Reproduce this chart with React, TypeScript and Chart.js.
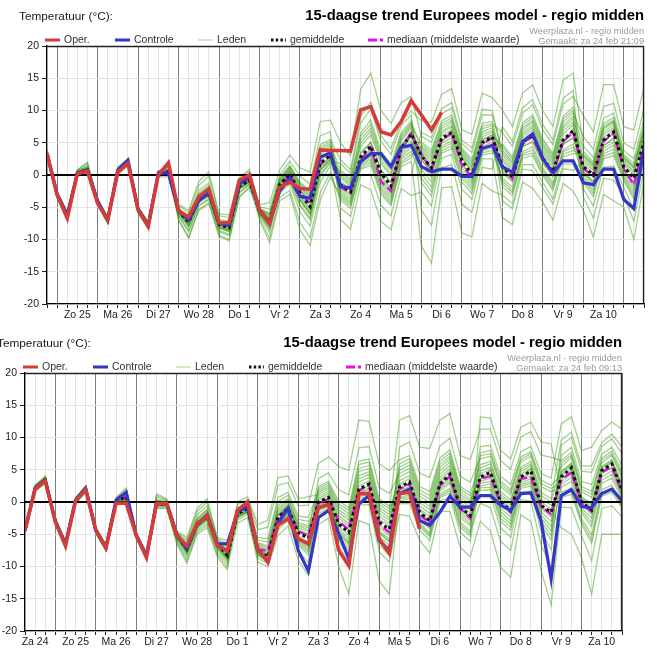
import React, { useEffect, useRef } from "react";
import { Chart, registerables } from "chart.js";

Chart.register(...registerables);

const FONT = '"Liberation Sans", Arial, Helvetica, sans-serif';
const RED = "#d43c3c";
const BLUE = "#3535c9";
const MAGENTA = "#e012e0";
const MEMBER = "rgba(50,150,10,0.45)";
const TITLE = "15-daagse trend Europees model - regio midden";

const yRange = [-20, 20];
const yStep = 5;

const topDays = ["Zo 25", "Ma 26", "Di 27", "Wo 28", "Do 1", "Vr 2", "Za 3", "Zo 4", "Ma 5", "Di 6", "Wo 7", "Do 8", "Vr 9", "Za 10"];
const bottomDays = ["Za 24", "Zo 25", "Ma 26", "Di 27", "Wo 28", "Do 1", "Vr 2", "Za 3", "Zo 4", "Ma 5", "Di 6", "Wo 7", "Do 8", "Vr 9", "Za 10"];

// ---------- Top panel (run za 24 feb 21:09), 6-hourly values ----------
const topOper = [3.4,-3.1,-6.7,0.2,0.6,-4.4,-7.0,0.5,1.8,-5.4,-8.0,0.0,1.9,-5.6,-6.5,-3.4,-2.2,-7.4,-7.4,-0.8,0.0,-5.4,-7.5,-1.9,-1.1,-2.1,-2.2,3.9,3.8,3.8,3.7,10.1,10.6,6.7,6.2,8.3,11.5,9.3,7.0,9.7];
const topControl = [3.3,-3.0,-6.3,0.3,0.8,-4.0,-7.0,0.8,2.3,-5.3,-7.8,0.3,0.3,-5.5,-7.0,-4.0,-2.7,-7.5,-7.8,-1.5,0.0,-5.5,-7.3,-2.5,-0.5,-3.3,-3.6,2.8,3.4,-1.8,-2.0,2.1,3.3,3.3,1.3,4.3,4.6,1.3,0.5,0.9,0.9,-0.2,-0.2,4.1,4.6,1.3,0.4,5.2,6.4,2.6,0.3,2.2,2.2,-1.2,-1.5,0.9,0.9,-3.8,-5.2,4.1];
const topMean = [3.3,-3.0,-6.3,0.3,0.8,-4.2,-7.0,0.6,2.0,-5.4,-7.8,0.2,0.5,-5.6,-7.3,-3.8,-2.8,-7.7,-8.2,-1.8,-0.8,-5.6,-7.2,-1.5,0.2,-2.8,-4.9,1.8,3.1,-1.5,-2.6,2.8,4.5,0.3,-1.7,4.1,6.4,3.0,1.1,5.7,6.6,2.3,0.0,5.0,5.9,1.3,-0.3,5.0,6.2,2.6,0.5,5.4,6.9,1.3,0.0,5.4,6.7,1.3,-0.5,5.2];
const topMedian = [3.3,-3.0,-6.3,0.3,0.8,-4.2,-7.0,0.6,2.0,-5.4,-7.8,0.2,0.5,-5.6,-7.1,-3.6,-2.6,-7.6,-8.0,-1.6,-0.6,-5.6,-7.2,-1.7,0.0,-2.6,-4.5,1.6,3.0,-1.8,-2.8,2.4,4.3,-1.0,-2.5,4.0,6.4,3.2,0.8,5.5,6.5,1.5,-0.3,4.8,5.8,1.5,-0.5,4.8,6.0,2.3,0.3,5.2,6.6,1.0,-0.2,5.2,6.5,1.0,-1.5,4.8];
const topMembers = [
  [3.7,-2.6,-5.9,0.7,1.2,-3.8,-6.6,1.0,2.4,-5.0,-7.4,0.6,0.9,-4.7,-5.9,-1.6,-0.2,-6.3,-6.6,-0.8,0.6,-4.6,-4.3,0.8,3.1,1.1,0.4,8.3,8.5,5.0,3.0,13.3,15.8,10.0,8.0,11.2,12.2,6.0,5.1,9.5,10.4,4.9,3.5,9.3,9.3,3.9,2.0,7.3,8.5,4.8,2.6,8.2,9.6,6.0,4.0,10.6,11.1,5.0,4.0,10.2],
  [2.9,-3.4,-6.7,-0.1,0.4,-4.6,-7.4,0.2,1.6,-5.8,-8.2,-0.2,0.1,-6.9,-9.6,-5.3,-4.3,-9.3,-10.0,-3.3,-1.9,-6.7,-9.8,-3.5,-2.4,-7.4,-9.7,-2.8,0.4,-3.9,-5.2,0.9,1.5,-3.0,-4.7,1.3,2.1,-11.0,-13.7,-2.0,-1.8,-9.0,-9.6,-1.3,-2.5,-3.1,-4.4,1.6,1.6,-1.2,-3.7,1.7,1.7,-0.7,-2.9,2.9,3.5,-0.6,-3.4,3.3],
  [3.5,-2.8,-6.1,0.5,1.0,-4.0,-6.8,0.8,2.2,-5.2,-7.6,0.4,0.7,-5.3,-6.8,-3.0,-1.8,-7.2,-7.6,-1.4,-0.3,-5.2,-5.9,-0.5,1.5,-1.1,-2.5,4.7,5.5,2.4,0.8,9.1,11.3,6.1,4.1,8.4,9.9,8.4,8.2,12.5,13.4,7.0,6.3,12.7,12.0,10.1,7.5,12.7,14.0,10.0,7.5,14.7,15.8,4.5,2.7,8.8,9.6,3.8,2.5,8.6],
  [3.1,-3.2,-6.5,0.1,0.6,-4.4,-7.2,0.4,1.8,-5.6,-8.0,0.0,0.3,-6.0,-8.1,-4.3,-3.3,-8.2,-8.8,-2.3,-1.2,-6.3,-8.9,-2.8,-1.4,-5.7,-7.9,-1.1,1.4,-6.9,-8.4,-1.5,-2.3,-7.2,-8.5,-2.1,-3.2,-2.6,-4.8,2.6,3.2,-2.2,-3.8,2.5,2.5,-6.6,-7.7,-1.1,-2.1,-4.2,-7.0,-1.3,-2.5,-5.4,-9.6,-3.0,-4.0,-5.0,-10.0,-1.0],
  [3.8,-2.5,-5.7,0.8,2.0,-3.8,-6.5,1.2,2.5,-5.0,-7.2,0.6,1.5,-5.1,-6.4,-2.4,-1.2,-6.9,-7.2,-1.2,0.1,-5.4,-6.6,-1.0,0.8,-1.9,-3.7,3.2,4.3,-0.2,-1.5,4.9,6.8,2.2,0.2,5.5,7.6,4.8,3.5,8.0,8.9,3.9,2.1,7.6,7.9,6.6,4.4,9.6,10.9,7.0,4.7,11.0,12.2,9.2,6.7,14.0,14.0,7.5,7.0,13.6],
  [2.8,-3.5,-6.8,-0.2,0.2,-4.7,-7.5,0.1,1.4,-5.9,-8.3,-0.3,-0.3,-6.3,-8.6,-4.7,-3.7,-8.6,-9.2,-2.7,-1.4,-5.9,-7.9,-2.0,-0.4,-3.9,-6.1,0.7,2.4,0.5,-0.9,6.0,7.9,3.2,1.2,6.2,8.1,0.2,-1.9,4.2,4.9,0.0,-1.9,3.7,4.2,1.0,-0.8,5.4,6.0,2.2,0.9,5.0,7.2,-2.1,-4.8,1.2,1.4,-1.9,-5.3,2.1],
  [3.3,-3.0,-6.2,0.3,0.9,-4.1,-7.0,0.6,2.1,-5.4,-7.8,0.2,0.6,-5.5,-7.1,-3.5,-2.5,-7.5,-8.0,-1.7,-0.6,-5.7,-7.5,-1.8,-0.1,-3.4,-5.5,1.2,2.8,-2.7,-3.9,1.8,3.0,-1.4,-3.2,2.7,4.3,3.6,1.9,6.5,7.4,2.8,0.7,5.9,6.6,-1.3,-2.8,3.0,3.4,0.3,-2.0,3.2,3.8,2.9,1.3,7.1,8.2,2.5,1.0,6.9],
  [3.4,-2.9,-6.4,0.4,0.7,-4.3,-6.9,0.5,1.9,-5.5,-7.7,0.1,0.4,-5.7,-7.6,-4.0,-3.0,-7.9,-8.4,-2.0,-0.9,-4.9,-5.3,0.0,2.1,-0.2,-1.4,6.1,6.7,-5.1,-6.4,-0.1,0.0,-4.7,-6.3,0.0,0.0,6.6,5.8,10.3,11.2,5.4,4.2,10.2,10.0,3.1,1.3,6.5,7.8,4.1,1.9,7.3,8.7,0.0,-1.9,3.7,4.6,0.0,-2.4,4.0],
  [3.2,-3.1,-6.5,0.2,0.5,-4.3,-7.1,0.4,1.7,-5.5,-7.9,0.1,0.2,-5.4,-6.9,-3.2,-2.1,-7.4,-7.8,-1.5,-0.5,-6.0,-8.2,-2.3,-0.8,-4.5,-6.7,0.1,2.1,1.8,0.2,8.1,10.2,5.2,3.2,7.7,9.3,-5.4,-7.8,1.1,1.6,-4.5,-5.8,1.2,0.9,7.5,5.2,10.4,11.7,7.8,5.4,11.9,13.1,-3.4,-6.7,-0.5,-0.8,-3.1,-7.2,0.9],
  [3.6,-2.7,-6.0,0.6,1.5,-3.9,-6.7,0.9,2.4,-5.1,-7.5,0.5,1.2,-6.4,-8.8,-4.8,-3.8,-8.8,-9.4,-2.8,-1.5,-5.5,-6.9,-1.3,0.5,-2.4,-4.3,2.5,3.7,-2.1,-3.2,2.3,3.8,-0.5,-2.5,3.4,5.3,2.5,0.5,5.2,6.8,1.8,-0.5,5.5,6.2,-4.0,-5.2,0.9,0.7,-2.0,-4.5,1.0,0.7,2.1,0.7,6.3,7.4,1.9,0.3,6.0],
  [3.0,-3.3,-6.6,0.0,0.5,-4.5,-7.3,0.3,1.7,-5.7,-8.1,-0.1,0.2,-4.5,-5.5,-1.0,0.5,-6.0,-6.2,-0.5,0.9,-7.0,-10.5,-4.0,-3.0,-8.5,-10.9,-3.9,-0.3,-3.3,-4.5,1.4,2.3,-2.2,-4.0,2.0,3.2,4.2,2.7,7.2,8.1,3.3,1.4,6.7,7.3,0.4,-1.1,4.3,5.3,1.8,-0.3,4.7,5.9,0.6,-1.0,4.6,5.6,0.7,-1.5,4.6],
  [3.7,-2.6,-5.8,0.8,1.8,-3.9,-6.6,1.1,2.5,-5.0,-7.3,0.6,1.3,-7.0,-9.8,-5.5,-4.5,-9.5,-10.2,-3.5,-2.0,-5.3,-6.2,-0.8,1.2,-1.5,-3.1,4.0,4.9,-1.0,-2.2,3.5,5.0,0.8,-1.2,4.5,6.8,-1.2,-3.3,3.4,4.1,-1.1,-2.9,3.1,3.4,4.8,2.8,8.1,9.3,5.6,3.3,9.1,10.5,3.7,2.0,8.0,8.9,3.2,1.8,7.7],
  [3.5,-2.8,-6.1,0.5,1.0,-4.0,-6.8,0.8,2.2,-5.2,-7.6,0.4,0.7,-5.4,-7.0,-3.4,-2.3,-7.4,-7.9,-1.6,-0.5,-5.3,-6.4,-0.9,1.0,-1.7,-3.4,3.6,4.6,0.8,-0.6,6.5,8.5,3.7,1.7,6.6,8.4,3.9,2.3,6.8,7.7,3.1,1.1,6.3,6.9,3.5,1.7,6.9,8.2,4.5,2.3,7.7,9.1,2.5,1.0,6.7,7.8,2.2,0.6,6.5],
  [3.1,-3.2,-6.4,0.1,0.7,-4.4,-7.2,0.5,1.9,-5.6,-8.0,0.1,0.4,-5.8,-7.7,-4.1,-3.1,-8.0,-8.5,-2.1,-1.0,-5.9,-7.9,-2.0,-0.4,-3.9,-6.1,0.7,2.4,-3.0,-4.2,1.6,2.6,-1.8,-3.6,2.4,3.7,-0.5,-2.6,3.8,4.5,-0.5,-2.4,3.4,3.8,-0.5,-1.9,3.6,4.4,1.1,-1.2,3.9,4.8,-0.4,-2.4,3.3,4.0,-0.3,-2.9,3.7],
  [3.4,-2.9,-6.2,0.4,0.9,-4.1,-6.9,0.7,2.1,-5.3,-7.7,0.3,0.6,-5.2,-6.7,-2.8,-1.6,-7.1,-7.5,-1.3,-0.2,-5.4,-6.8,-1.2,0.6,-2.2,-4.1,2.7,3.9,-2.4,-3.6,2.1,3.4,-0.9,-2.8,3.1,4.8,5.1,3.9,8.4,9.3,4.1,2.5,8.0,8.3,2.2,0.5,5.8,7.0,3.3,1.2,6.3,7.8,0.5,-1.1,4.4,5.8,0.8,-1.3,4.3],
  [3.2,-3.1,-6.4,0.2,0.7,-4.3,-7.1,0.5,1.9,-5.5,-7.9,0.1,0.4,-5.9,-7.9,-4.2,-3.2,-8.2,-8.7,-2.2,-1.1,-5.5,-7.0,-1.4,0.4,-2.6,-4.6,2.2,3.4,-0.5,-1.8,4.4,6.2,1.8,-0.2,5.2,7.3,1.6,-0.4,4.9,5.8,1.2,-1.0,4.4,5.1,-1.8,-3.2,2.6,3.0,-0.1,-2.4,2.8,3.3,3.3,1.7,7.6,8.5,2.9,1.4,7.3],
  [3.6,-2.7,-6.0,0.6,1.3,-3.9,-6.7,0.9,2.3,-5.1,-7.5,0.5,1.0,-5.5,-7.2,-3.7,-2.6,-7.6,-8.1,-1.7,-0.7,-6.1,-8.4,-2.4,-0.9,-4.8,-7.0,-0.2,1.9,-1.2,-2.3,3.3,5.1,0.8,-1.2,4.5,6.7,0.9,-1.1,4.5,5.3,0.6,-1.4,4.1,4.6,2.6,0.9,6.2,7.4,3.7,1.6,6.8,8.2,-1.1,-3.4,2.5,3.0,-0.9,-3.8,3.0],
  [3.0,-3.3,-6.6,0.0,0.5,-4.5,-7.3,0.3,1.7,-5.7,-8.1,-0.1,0.2,-5.7,-7.4,-3.9,-2.9,-7.8,-8.3,-1.9,-0.9,-5.2,-6.1,-0.6,1.3,-1.3,-2.8,4.3,5.2,-3.6,-4.8,1.1,1.9,-2.6,-4.4,1.7,2.7,4.5,3.1,7.6,8.5,3.6,1.8,7.2,7.6,0.6,-0.9,4.5,5.0,2.0,-0.1,4.9,5.6,1.7,0.3,5.8,7.1,1.6,-0.1,5.6],
  [3.5,-2.9,-6.1,0.4,1.1,-4.0,-6.8,0.7,2.2,-5.3,-7.6,0.3,0.8,-5.3,-6.9,-3.1,-2.0,-7.3,-7.7,-1.5,-0.4,-5.8,-7.7,-1.9,-0.3,-3.7,-5.8,0.9,2.6,0.1,-1.2,5.4,7.3,2.7,0.7,5.9,7.9,2.3,0.4,5.3,6.2,1.7,-0.5,4.7,5.5,-0.9,-2.4,3.3,3.9,0.7,-1.6,3.6,4.3,3.0,1.5,7.3,8.3,2.7,1.2,7.0],
  [3.2,-3.1,-6.5,0.2,0.6,-4.4,-7.1,0.5,1.8,-5.6,-8.0,0.1,0.3,-5.9,-7.8,-4.1,-3.1,-8.1,-8.6,-2.1,-1.0,-5.7,-7.4,-1.6,0.0,-3.1,-5.2,1.5,2.9,-1.8,-2.9,2.6,4.1,-0.1,-2.1,3.8,5.9,3.3,1.5,6.1,7.0,2.6,0.4,5.4,6.2,4.4,2.4,7.7,8.9,5.2,3.0,8.7,10.0,0.3,-1.4,4.1,5.1,0.4,-1.9,4.3],
];

// ---------- Bottom panel (run za 24 feb 09:13), 6-hourly values ----------
const bottomOper = [-4.4,2.0,3.3,-3.1,-6.8,0.2,1.9,-4.4,-7.1,-0.2,-0.2,-5.2,-8.6,-0.2,-0.2,-5.2,-6.8,-3.4,-2.1,-6.8,-7.5,-1.3,0.0,-7.3,-9.3,-3.6,-2.6,-5.7,-6.5,-0.9,-0.4,-7.5,-9.9,1.3,1.3,-5.7,-8.0,1.3,1.5,-4.2];
const bottomControl = [-4.4,2.2,3.4,-3.0,-6.5,0.3,2.1,-4.4,-7.1,0.3,1.5,-5.2,-8.3,-0.2,-0.2,-5.0,-7.2,-3.5,-2.0,-6.5,-6.5,-1.5,-0.7,-7.3,-9.3,-3.3,-1.0,-7.5,-10.7,-2.4,-1.3,-4.9,-8.8,-0.3,1.0,-6.0,-7.5,1.3,2.0,-2.9,-3.6,-1.6,0.9,-0.8,-0.8,1.0,1.0,-0.5,-1.3,1.3,1.4,-2.9,-11.9,1.0,1.9,-0.7,-0.9,1.3,2.0,0.2];
const bottomMean = [-4.4,2.1,3.4,-3.0,-6.6,0.2,2.0,-4.4,-7.1,0.1,0.8,-5.2,-8.4,-0.3,-0.3,-5.2,-7.3,-3.5,-2.2,-6.5,-8.3,-1.8,-1.0,-7.5,-8.5,-2.4,-1.0,-4.8,-5.6,0.0,0.7,-3.4,-4.7,2.0,2.8,-3.1,-4.2,2.3,3.1,-1.6,-2.9,2.8,4.3,-0.8,-2.1,3.9,4.6,0.0,-1.3,3.9,4.8,-0.5,-1.6,3.9,5.3,0.0,-1.2,4.9,5.9,1.8];
const bottomMedian = [-4.4,2.1,3.4,-3.0,-6.6,0.2,2.0,-4.4,-7.1,0.1,0.8,-5.2,-8.3,-0.3,-0.3,-5.2,-7.2,-3.4,-2.1,-6.6,-8.0,-1.7,-0.9,-7.3,-7.6,-2.3,-1.1,-4.5,-5.3,-0.2,0.5,-3.0,-4.3,1.8,2.6,-3.5,-4.7,2.0,2.8,-1.9,-3.3,2.5,4.0,-1.0,-2.5,3.6,4.0,-0.3,-1.6,3.6,3.9,-0.7,-1.9,3.5,4.6,-0.2,-1.5,4.6,5.5,1.5];
const bottomMembers = [
  [-4.0,2.5,3.8,-2.6,-6.2,0.6,2.4,-4.0,-6.7,0.5,1.6,-4.8,-8.0,0.7,0.2,-4.8,-6.2,-2.0,-0.6,-5.9,-6.9,-0.4,0.4,-4.3,-3.9,2.6,3.0,-0.6,-0.5,6.0,7.0,5.5,4.9,12.7,12.5,5.9,4.9,6.5,7.2,2.4,1.6,6.8,8.1,2.4,1.4,5.8,6.3,1.6,0.3,5.4,6.3,1.5,0.5,9.6,10.8,5.6,5.6,9.2,10.5,8.5],
  [-4.8,1.7,3.0,-3.4,-7.0,-0.2,1.6,-4.8,-7.5,-0.3,0.0,-5.6,-8.8,-0.9,-0.9,-6.2,-9.1,-4.7,-3.6,-8.1,-10.1,-3.3,-2.4,-9.3,-10.0,-5.2,-3.7,-9.0,-11.4,-3.5,-2.5,-10.0,-14.3,-2.9,-3.5,-12.2,-14.3,0.7,1.1,-3.2,-4.8,1.2,2.1,-3.1,-4.5,-0.2,-0.9,-6.1,-7.5,0.4,0.1,-6.6,-10.2,0.7,1.2,-3.4,-6.4,0.9,1.5,-0.9],
  [-4.2,2.3,3.6,-2.8,-6.4,0.4,2.2,-4.2,-6.9,0.3,1.2,-5.0,-8.2,0.2,-0.1,-5.0,-6.8,-2.8,-1.4,-6.2,-7.6,-0.9,-0.1,-5.5,-5.7,0.7,1.5,-2.2,-2.4,1.8,2.6,-0.7,-1.8,5.2,5.7,-0.4,-1.5,12.7,13.4,8.5,8.3,12.7,13.7,7.2,6.6,11.3,11.3,6.4,5.1,10.1,10.9,7.3,6.9,6.4,7.7,2.4,1.7,6.8,7.9,4.7],
  [-4.6,1.9,3.2,-3.2,-6.8,0.0,1.8,-4.6,-7.3,-0.1,0.4,-5.4,-8.6,-0.6,-0.6,-5.7,-8.2,-4.1,-2.9,-7.3,-9.2,-2.3,-1.5,-8.1,-9.0,-3.3,-1.9,-6.2,-7.5,-1.8,-0.9,-6.7,-9.5,-0.5,-0.4,-7.7,-9.3,-1.9,-2.2,-5.9,-7.9,-1.4,-1.5,-7.0,-8.5,-3.0,-4.5,-10.1,-11.7,-2.0,-3.0,-10.6,-16.0,-0.8,-0.9,-5.2,-9.1,-1.0,-0.6,-2.3],
  [-3.9,2.6,4.0,-2.5,-6.1,0.7,2.5,-3.9,-6.6,0.7,2.2,-4.7,-7.9,1.0,0.3,-4.6,-5.9,-1.5,0.0,-5.7,-6.5,-1.6,-0.8,-7.2,-8.2,-2.0,-0.6,-4.5,-5.0,3.6,4.5,1.9,1.1,8.4,8.6,2.3,1.3,4.4,5.2,0.4,-0.7,4.8,6.2,0.8,-0.4,8.6,8.8,4.0,2.7,7.8,8.6,4.4,3.7,12.1,13.2,8.0,8.5,11.1,12.4,11.3],
  [-4.9,1.6,2.9,-3.5,-7.1,-0.3,1.5,-4.9,-7.6,-0.4,-0.2,-5.7,-8.9,-0.4,-0.4,-5.5,-7.7,-3.8,-2.6,-6.9,-8.7,-2.8,-1.9,-8.7,-9.5,-4.3,-2.8,-7.6,-9.4,0.6,1.3,-2.5,-3.7,3.1,3.8,-2.2,-3.3,-0.3,-0.2,-4.3,-6.0,0.2,0.7,-4.7,-6.1,3.5,4.9,0.4,-1.6,3.6,5.2,-0.9,-1.2,-4.0,-5.0,-8.6,-14.3,-5.0,-5.0,-5.0],
  [-4.4,2.1,3.5,-3.0,-6.5,0.2,2.1,-4.4,-7.0,0.2,0.9,-5.2,-8.3,-0.1,-0.2,-5.1,-7.1,-3.3,-1.9,-6.4,-8.1,-1.4,-0.6,-6.7,-7.4,-1.2,0.0,-3.7,-4.3,-0.7,0.1,-4.7,-6.6,1.0,1.5,-4.9,-6.2,3.3,4.1,-0.6,-1.8,3.8,5.2,0.0,-1.2,2.5,2.8,-2.0,-3.4,2.7,3.2,-2.5,-4.5,7.2,8.5,3.2,2.7,7.4,8.5,5.6],
  [-4.3,2.2,3.3,-2.9,-6.7,0.3,1.9,-4.3,-7.2,0.0,0.6,-5.1,-8.5,-0.4,-0.4,-5.3,-7.5,-3.7,-2.4,-6.7,-8.5,-1.1,-0.3,-5.9,-6.2,0.1,1.0,-2.7,-3.0,-1.4,-0.6,-6.0,-8.5,0.0,0.3,-6.7,-8.2,8.5,9.3,4.5,3.8,8.7,9.9,4.0,3.1,6.7,7.1,2.4,1.1,6.2,7.1,2.4,1.6,2.3,3.2,-1.7,-3.8,2.9,3.7,0.4],
  [-4.5,2.0,3.2,-3.1,-6.5,0.1,1.8,-4.5,-7.1,0.1,1.0,-5.3,-8.3,0.3,0.0,-4.9,-6.6,-2.5,-1.1,-6.1,-7.4,-2.1,-1.3,-7.9,-8.8,-3.0,-1.6,-5.7,-6.9,2.4,3.2,0.2,-0.9,6.3,6.7,0.5,-0.6,0.2,0.5,-3.8,-5.4,0.7,1.4,-3.9,-5.3,13.2,13.0,8.0,6.7,11.6,12.4,9.3,9.0,1.5,2.2,-2.6,-5.1,1.9,2.6,-0.2],
  [-4.1,2.4,3.7,-2.7,-6.3,0.5,2.3,-4.1,-6.8,0.4,1.4,-4.9,-8.1,-0.7,-0.7,-6.0,-8.6,-4.4,-3.3,-7.7,-9.6,-1.6,-0.8,-7.1,-7.9,-1.8,-0.5,-4.3,-5.0,-0.4,0.4,-4.1,-5.7,1.5,2.2,-4.0,-5.2,2.7,2.8,-1.2,-3.2,3.1,4.0,-0.5,-2.4,1.1,1.0,-4.0,-5.5,1.5,1.7,-4.5,-7.4,4.7,6.1,0.8,-0.2,5.5,6.6,2.8],
  [-4.7,1.8,3.1,-3.3,-6.9,-0.1,1.7,-4.7,-7.4,-0.2,0.2,-5.5,-8.7,1.3,0.5,-4.5,-5.5,-1.0,0.5,-5.5,-6.0,-2.5,-1.6,-8.3,-9.2,-3.6,-2.2,-6.7,-8.2,-1.1,-0.3,-5.4,-7.6,0.5,0.9,-5.8,-7.2,5.4,6.2,1.4,0.5,5.8,7.1,1.6,0.5,1.8,1.9,-3.0,-4.4,2.1,2.5,-3.5,-5.9,8.8,10.0,4.8,4.6,8.6,9.8,7.5],
  [-4.0,2.6,3.9,-2.6,-6.2,0.6,2.5,-4.0,-6.7,0.6,2.0,-4.8,-8.0,-1.0,-1.0,-6.5,-9.5,-5.0,-4.0,-8.5,-10.5,0.0,0.8,-3.5,-2.8,3.8,4.0,0.5,0.8,1.2,2.0,-1.6,-2.8,4.1,4.7,-1.3,-2.4,1.3,1.8,-2.7,-4.1,1.7,2.9,-2.4,-3.7,7.6,8.0,3.2,1.9,7.0,7.8,3.4,2.6,4.2,5.0,0.4,-1.6,4.6,6.2,1.4],
  [-4.2,2.3,3.6,-2.8,-6.4,0.4,2.2,-4.2,-6.9,0.3,1.1,-5.0,-8.2,0.0,-0.1,-5.1,-6.9,-3.0,-1.7,-6.3,-7.8,-1.3,-0.5,-6.3,-6.8,-0.5,0.5,-3.2,-3.7,1.5,2.3,-1.2,-2.3,4.7,5.2,-0.9,-1.9,3.9,4.7,-0.1,-1.2,4.3,5.7,0.4,-0.8,5.3,5.9,1.2,-0.1,5.1,5.9,1.0,0.0,6.0,7.3,2.0,1.2,6.5,7.5,4.2],
  [-4.6,1.9,3.2,-3.2,-6.8,0.0,1.8,-4.6,-7.3,-0.1,0.5,-5.4,-8.6,-0.5,-0.5,-5.5,-7.9,-3.9,-2.7,-7.0,-8.9,-2.2,-1.4,-8.0,-8.9,-3.2,-1.8,-6.0,-7.2,-0.9,-0.1,-5.1,-7.1,0.8,1.2,-5.4,-6.7,1.5,2.1,-2.4,-3.8,2.0,3.2,-2.0,-3.3,2.2,2.3,-2.5,-3.9,2.4,2.9,-3.0,-5.2,2.7,3.8,-1.3,-3.2,3.4,4.3,0.8],
  [-4.3,2.2,3.5,-2.9,-6.5,0.3,2.1,-4.3,-7.0,0.2,0.9,-5.1,-8.3,0.3,0.0,-5.0,-6.7,-2.6,-1.3,-6.2,-7.5,-2.0,-1.2,-7.7,-8.7,-2.7,-1.3,-5.3,-6.2,0.3,1.0,-3.0,-4.2,2.5,3.3,-2.7,-3.7,5.9,6.7,1.9,1.0,6.3,7.6,2.0,1.0,3.2,3.7,-1.0,-2.3,3.3,4.0,-1.5,-3.0,4.3,5.7,0.4,-0.7,5.2,6.2,2.3],
  [-4.5,2.0,3.3,-3.1,-6.7,0.1,1.9,-4.5,-7.2,0.0,0.6,-5.3,-8.5,-0.5,-0.5,-5.6,-8.0,-4.0,-2.7,-7.1,-9.0,-1.5,-0.7,-6.9,-7.6,-1.5,-0.3,-4.0,-4.6,-0.5,0.2,-4.4,-6.1,1.3,1.9,-4.5,-5.7,0.5,0.8,-3.5,-5.1,0.9,1.8,-3.5,-4.9,4.8,5.4,0.8,-0.5,4.7,5.6,0.5,-0.5,1.1,1.7,-3.0,-5.8,1.4,2.1,-0.6],
  [-4.1,2.4,3.7,-2.7,-6.3,0.5,2.3,-4.1,-6.8,0.4,1.3,-4.9,-8.1,-0.2,-0.4,-5.1,-7.2,-3.6,-2.1,-6.6,-8.2,-2.4,-1.5,-8.2,-9.1,-3.5,-2.1,-6.5,-7.8,2.1,2.9,-0.3,-1.3,5.8,6.2,0.0,-1.0,2.8,3.6,-1.1,-2.3,3.3,4.8,-0.4,-1.7,7.2,7.5,2.8,1.5,6.6,7.5,2.9,2.1,3.1,4.3,-0.9,-2.5,3.9,4.8,1.1],
  [-4.7,1.8,3.1,-3.3,-6.9,-0.1,1.7,-4.7,-7.4,-0.2,0.3,-5.5,-8.7,-0.4,-0.4,-5.3,-7.5,-3.7,-2.4,-6.7,-8.5,-1.7,-0.9,-7.3,-8.2,-2.1,-0.7,-4.5,-5.3,-0.2,0.5,-3.7,-5.2,1.8,2.5,-3.6,-4.7,1.8,2.4,-2.1,-3.5,2.3,3.6,-1.6,-2.9,2.9,3.2,-1.5,-2.9,3.0,3.6,-2.0,-3.8,5.5,6.9,1.6,0.7,6.1,7.2,3.7],
  [-4.3,2.2,3.6,-2.9,-6.4,0.3,2.2,-4.3,-6.9,0.3,1.0,-5.0,-8.2,-0.1,-0.2,-5.1,-7.0,-3.1,-1.8,-6.4,-8.0,-2.1,-1.2,-7.8,-8.8,-2.9,-1.5,-5.5,-6.6,0.9,1.6,-2.1,-3.3,3.6,4.3,-1.8,-2.8,4.9,5.7,0.9,-0.1,5.3,6.7,1.2,0.1,4.4,5.0,0.4,-0.9,4.3,5.2,0.0,-1.1,3.5,4.8,-0.4,-1.9,4.4,5.4,1.5],
  [-4.5,2.0,3.3,-3.1,-6.7,0.1,1.9,-4.5,-7.2,0.0,0.7,-5.3,-8.5,-0.4,-0.4,-5.4,-7.6,-3.7,-2.5,-6.8,-8.6,-1.4,-0.6,-6.5,-7.1,-0.9,0.3,-3.5,-4.0,-0.8,0.0,-4.8,-6.4,1.1,1.6,-4.7,-6.0,2.0,2.8,-1.9,-3.2,2.5,3.9,-1.2,-2.5,3.6,4.1,-0.5,-1.8,3.6,4.4,-1.0,-2.3,4.6,5.9,0.6,-0.4,5.4,6.4,2.6],
];

type PanelProps = {
  oper: number[];
  control: number[];
  mean: number[];
  median: number[];
  members: number[][];
  days: string[];
  firstDay: number;
  made: string;
};

const W = 657;
const H = 327;
const LAST_INDEX = 59;

function Panel(p: PanelProps) {
  const ref = useRef<HTMLCanvasElement | null>(null);

  useEffect(() => {
    const canvas = ref.current;
    if (!canvas) return;
    const pts = (a: number[]) => a.map((y, x) => ({ x, y }));
    const rel = (v: number) => (((v - p.firstDay) % 4) + 4) % 4;

    const datasets: any[] = [
      { label: "Oper.", data: pts(p.oper), borderColor: RED, borderWidth: 3.6 },
      { label: "Controle", data: pts(p.control), borderColor: BLUE, borderWidth: 3.2 },
      { label: "gemiddelde", data: pts(p.mean), borderColor: "#111", borderWidth: 3, borderDash: [3, 3], borderCapStyle: "butt" },
      { label: "mediaan (middelste waarde)", data: pts(p.median), borderColor: MAGENTA, borderWidth: 2.4, borderDash: [8, 4] },
      ...p.members.map((m, k) => ({ label: "Leden " + (k + 1), data: pts(m), borderColor: MEMBER, borderWidth: 1.3 })),
    ].map((d) => ({ ...d, pointRadius: 0, tension: 0, fill: false }));

    const header = {
      id: "header",
      afterDatasetDraw(chart: any, args: any) {
        if (args.index !== 4) return;
        const { ctx, chartArea } = chart;
        const y0 = chart.scales.y.getPixelForValue(0);
        ctx.save();
        ctx.strokeStyle = "#000";
        ctx.lineWidth = 2;
        ctx.beginPath();
        ctx.moveTo(chartArea.left, y0);
        ctx.lineTo(chartArea.right, y0);
        ctx.stroke();
        ctx.restore();
      },
      afterDraw(chart: any) {
        const { ctx, chartArea } = chart;
        ctx.save();
        ctx.strokeStyle = "#222";
        ctx.lineWidth = 1.3;
        ctx.beginPath();
        ctx.moveTo(chartArea.left, chartArea.top + 0.5);
        ctx.lineTo(chartArea.right, chartArea.top + 0.5);
        ctx.moveTo(chartArea.right - 0.5, chartArea.top);
        ctx.lineTo(chartArea.right - 0.5, chartArea.bottom);
        ctx.stroke();

        ctx.textBaseline = "middle";
        ctx.fillStyle = "#1a1a1a";
        ctx.textAlign = "left";
        ctx.font = "11.8px " + FONT;
        ctx.fillText("Temperatuur (°C):", 19, 17);

        ctx.textAlign = "right";
        ctx.font = "bold 14.8px " + FONT;
        ctx.fillStyle = "#000";
        ctx.fillText(TITLE, 644, 16);

        ctx.font = "9.2px " + FONT;
        ctx.fillStyle = "#9a9a9a";
        ctx.fillText("Weerplaza.nl - regio midden", 644, 31);
        ctx.fillText(p.made, 644, 41);

        const ly = 40;
        const sw = (x0: number, x1: number, color: string, w: number, dash: number[]) => {
          ctx.beginPath();
          ctx.setLineDash(dash);
          ctx.lineWidth = w;
          ctx.strokeStyle = color;
          ctx.lineCap = "butt";
          ctx.moveTo(x0, ly);
          ctx.lineTo(x1, ly);
          ctx.stroke();
        };
        sw(45, 60, RED, 3, []);
        sw(115, 130, BLUE, 3, []);
        sw(198, 213, "#b4dca4", 1.2, []);
        sw(271, 286, "#111", 3, [2.5, 2.2]);
        sw(368, 383, MAGENTA, 3, [9, 3]);
        ctx.setLineDash([]);
        ctx.textAlign = "left";
        ctx.fillStyle = "#333";
        ctx.font = "10.5px " + FONT;
        ctx.fillText("Oper.", 64, ly);
        ctx.fillText("Controle", 134, ly);
        ctx.fillText("Leden", 217, ly);
        ctx.fillText("gemiddelde", 290, ly);
        ctx.fillText("mediaan (middelste waarde)", 387, ly);
        ctx.restore();
      },
    };

    const chart = new Chart(canvas, {
      type: "line",
      data: { datasets },
      plugins: [header as any],
      options: {
        animation: false,
        responsive: false,
        maintainAspectRatio: false,
        events: [],
        layout: { padding: { left: 0, top: 46, right: W - 644, bottom: 0 } },
        plugins: { legend: { display: false }, tooltip: { enabled: false }, title: { display: false } },
        scales: {
          x: {
            type: "linear",
            min: 0,
            max: LAST_INDEX,
            afterFit: (s: any) => {
              s.height = 23;
            },
            ticks: {
              stepSize: 1,
              autoSkip: false,
              maxRotation: 0,
              minRotation: 0,
              padding: 1,
              color: "#222",
              font: { family: FONT, size: 10.5 },
              callback: (v: any) => {
                const n = Number(v);
                if (n < p.firstDay || rel(n) !== 0) return "";
                return p.days[(n - p.firstDay) / 4] ?? "";
              },
            },
            grid: {
              color: (c: any) => (rel(c.tick.value) === 2 ? "#7c7c7c" : "#e3e3e3"),
              lineWidth: 1,
              tickLength: 4,
              tickColor: "#222",
              drawTicks: true,
            },
            border: { display: true, color: "#000", width: 1.3 },
          },
          y: {
            min: yRange[0],
            max: yRange[1],
            afterFit: (s: any) => {
              s.width = 47;
            },
            ticks: { stepSize: yStep, padding: 3, color: "#222", font: { family: FONT, size: 10.5 } },
            grid: { color: "#e3e3e3", lineWidth: 1, tickLength: 5, tickColor: "#222" },
            border: { display: true, color: "#000", width: 1.3 },
          },
        },
      } as any,
    });
    return () => chart.destroy();
  }, []);

  return <canvas ref={ref} width={W} height={H} style={{ display: "block" }} />;
}

export default function App() {
  return (
    <div style={{ position: "absolute", left: 0, top: 0, width: 657, height: 659, overflow: "hidden", background: "#fff" }}>
      <div style={{ position: "absolute", left: 0, top: 0 }}>
        <Panel oper={topOper} control={topControl} mean={topMean} median={topMedian} members={topMembers} days={topDays} firstDay={3} made="Gemaakt: za 24 feb 21:09" />
      </div>
      <div style={{ position: "absolute", left: -22, top: 327 }}>
        <Panel oper={bottomOper} control={bottomControl} mean={bottomMean} median={bottomMedian} members={bottomMembers} days={bottomDays} firstDay={1} made="Gemaakt: za 24 feb 09:13" />
      </div>
    </div>
  );
}
